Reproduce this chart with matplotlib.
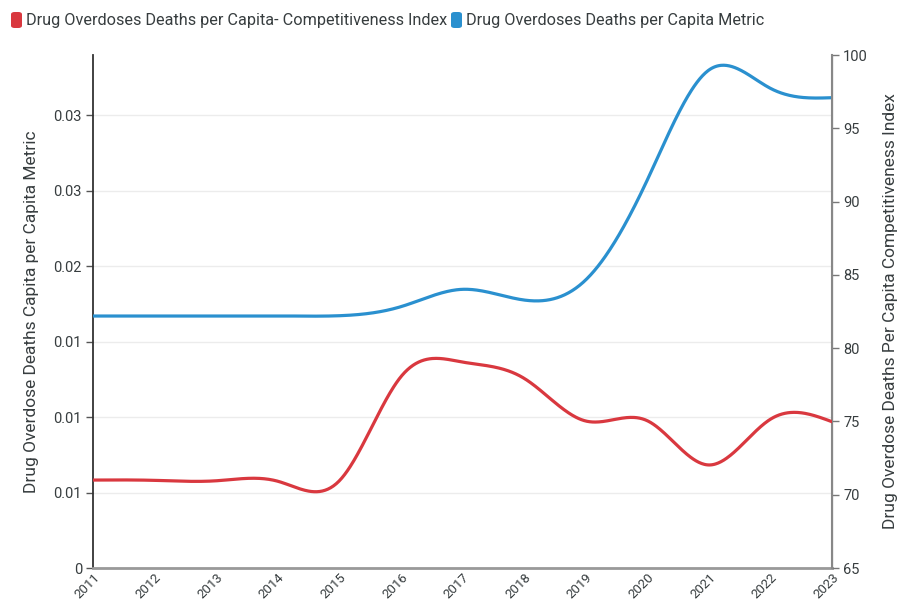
import numpy as np
import matplotlib
matplotlib.use("Agg")
import matplotlib.pyplot as plt
from matplotlib.patches import FancyBboxPatch

plt.rcParams['font.family'] = ['Roboto', 'DejaVu Sans']

years = [2011, 2012, 2013, 2014, 2015, 2016, 2017, 2018, 2019, 2020, 2021, 2022, 2023]
metric = [0.01670, 0.01670, 0.01670, 0.01671, 0.01672, 0.01732, 0.01847, 0.01776,
          0.01909, 0.02571, 0.03300, 0.03179, 0.03117]
index_vals = [71.0, 70.98, 70.95, 70.92, 70.95, 78.05, 79.05, 77.94,
              75.03, 75.05, 72.03, 75.15, 74.98]

left_ticks = [0, 0.005, 0.01, 0.015, 0.02, 0.025, 0.03]
left_labels = ["0", "0.01", "0.01", "0.01", "0.02", "0.03", "0.03"]
right_ticks = [65, 70, 75, 80, 85, 90, 95, 100]

name_index = "Drug Overdoses Deaths per Capita- Competitiveness Index"
name_metric = "Drug Overdoses Deaths per Capita Metric"
left_title = "Drug Overdose Deaths Capita per Capita Metric"
right_title = "Drug Overdose Deaths Per Capita Competitiveness Index"

RED = "#d9383f"
BLUE = "#2a90cf"
TXT = "#373d3f"


def natural_spline(x, y, xs):
    x = np.asarray(x, float)
    y = np.asarray(y, float)
    n = len(x)
    h = np.diff(x)
    A = np.zeros((n, n))
    b = np.zeros(n)
    A[0, 0] = 1
    A[-1, -1] = 1
    for i in range(1, n - 1):
        A[i, i - 1] = h[i - 1]
        A[i, i] = 2 * (h[i - 1] + h[i])
        A[i, i + 1] = h[i]
        b[i] = 6 * ((y[i + 1] - y[i]) / h[i] - (y[i] - y[i - 1]) / h[i - 1])
    M = np.linalg.solve(A, b)
    idx = np.clip(np.searchsorted(x, xs) - 1, 0, n - 2)
    x0, x1 = x[idx], x[idx + 1]
    hh = x1 - x0
    t1 = x1 - xs
    t0 = xs - x0
    return (M[idx] * t1 ** 3 / (6 * hh) + M[idx + 1] * t0 ** 3 / (6 * hh)
            + (y[idx] / hh - M[idx] * hh / 6) * t1
            + (y[idx + 1] / hh - M[idx + 1] * hh / 6) * t0)


fig = plt.figure(figsize=(8.98, 6.02), dpi=100)
ax = fig.add_axes([93 / 898, 1 - 568 / 602, (832 - 93) / 898, (568 - 55) / 602])
ax2 = ax.twinx()

xs = np.linspace(years[0], years[-1], 800)
ax.plot(xs, natural_spline(years, metric, xs), color=BLUE, lw=2.3, solid_capstyle='round', zorder=3)
ax2.plot(xs, natural_spline(years, index_vals, xs), color=RED, lw=2.3, solid_capstyle='round', zorder=3)

ax.set_xlim(years[0], years[-1])
ax.set_ylim(0, 0.0340)
ax2.set_ylim(65, 100)

ax.set_xticks(years)
ax.set_xticklabels([str(y) for y in years], rotation=45, ha='right',
                   rotation_mode='anchor', fontsize=9.5, color=TXT)
ax.set_yticks(left_ticks)
ax.set_yticklabels(left_labels, fontsize=10.5, color=TXT)
ax2.set_yticks(right_ticks)
ax2.set_yticklabels([str(t) for t in right_ticks], fontsize=10.5, color=TXT)

ax.grid(axis='y', color='#ececec', lw=1)
ax.set_axisbelow(True)
ax.tick_params(axis='y', length=5, width=1, color='#555555', pad=3)
ax.tick_params(axis='x', length=0, pad=2)
ax2.tick_params(axis='y', length=5, width=1, color='#777777', pad=3)

for a in (ax, ax2):
    a.spines['top'].set_visible(False)
ax.spines['left'].set_color('#333333')
ax.spines['left'].set_linewidth(1.3)
ax.spines['bottom'].set_color('#999999')
ax.spines['bottom'].set_linewidth(2)
ax2.spines['right'].set_color('#888888')
ax2.spines['right'].set_linewidth(1.5)
ax2.spines['left'].set_visible(False)
ax2.spines['bottom'].set_visible(False)

ax.set_ylabel(left_title, fontsize=12.5, color=TXT, labelpad=10)
ax2.set_ylabel(right_title, fontsize=12.5, color=TXT, labelpad=11)

# legend
def legend_item(x_px, color, label):
    w, h = 11 / 898, 16 / 602
    p = FancyBboxPatch((x_px / 898, 1 - 28 / 602), w, h,
                       boxstyle="round,pad=0,rounding_size=0.004",
                       transform=fig.transFigure, facecolor=color, edgecolor='none')
    fig.patches.append(p)
    fig.text((x_px + 15) / 898, 1 - 20 / 602, label, fontsize=11.7, color=TXT,
             va='center', ha='left')

legend_item(11, RED, name_index)
legend_item(451, BLUE, name_metric)

fig.savefig("out.png", dpi=100)
